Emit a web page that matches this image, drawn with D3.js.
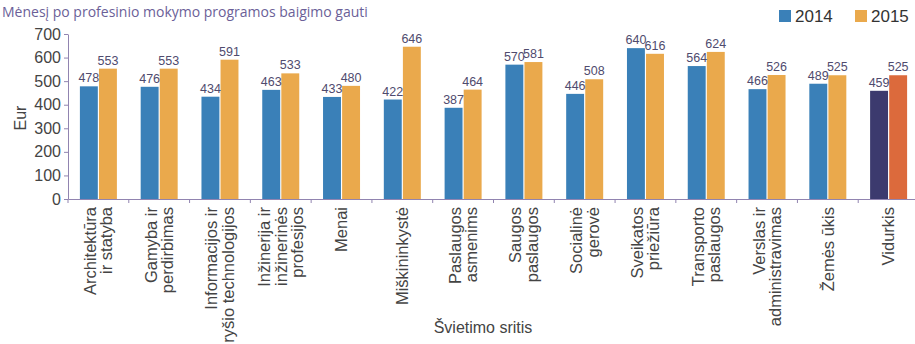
<!DOCTYPE html>
<html><head><meta charset="utf-8">
<script src="https://cdn.jsdelivr.net/npm/d3@7"></script>
<style>
body{margin:0;background:#fff;}
svg{display:block;font-family:"Liberation Sans",Arial,sans-serif;}
</style></head>
<body><svg id="c" width="915" height="344"></svg>
<script>
const categories = ["Architektūra|ir statyba","Gamyba ir|perdirbimas","Informacijos ir|ryšio technologijos","Inžinerija ir|inžinerinės|profesijos","Menai","Miškininkystė","Paslaugos|asmenims","Saugos|paslaugos","Socialinė|gerovė","Sveikatos|priežiūra","Transporto|paslaugos","Verslas ir|administravimas","Žemės ūkis","Vidurkis"];
const series = ["2014","2015"];
const values2014 = [478,476,434,463,433,422,387,570,446,640,564,466,489,459];
const values2015 = [553,553,591,533,480,646,464,581,508,616,624,526,525,525];
const yTicks = [0,100,200,300,400,500,600,700];
const title = "Mėnesį po profesinio mokymo programos baigimo gauti";

const colors = {"2014":"#3a80b8","2015":"#eaa94c"};
const avgColors = {"2014":"#3c3a6e","2015":"#dc6a3c"};

const svg = d3.select("#c");
const x0 = d3.scaleBand().domain(categories).range([68, 919]).padding(0);
const bw = x0.bandwidth();
const x1 = d3.scaleBand().domain(series).range([bw/2-18.5, bw/2+18.5]).paddingInner(0.06);
const y = d3.scaleLinear().domain([0,700]).range([199,34]);

// title
svg.append("text").attr("x",2).attr("y",17).attr("font-family","'Open Sans',sans-serif")
  .attr("font-size",14).attr("fill","#6b5f98").text(title);

// bars
const data = categories.map((c,i)=>({c, vals:[{s:"2014",v:values2014[i]},{s:"2015",v:values2015[i]}], avg: i===categories.length-1}));
const g = svg.append("g").selectAll("g").data(data).join("g")
  .attr("transform", d=>`translate(${x0(d.c)},0)`);
g.selectAll("rect").data(d=>d.vals.map(v=>({...v,avg:d.avg}))).join("rect")
  .attr("x", d=>x1(d.s)).attr("width", x1.bandwidth())
  .attr("y", d=>y(d.v)).attr("height", d=>y(0)-y(d.v))
  .attr("fill", d=> d.avg ? avgColors[d.s] : colors[d.s]);
g.selectAll("text").data(d=>d.vals).join("text")
  .attr("x", d=>x1(d.s)+x1.bandwidth()/2).attr("y", d=>y(d.v)-4)
  .attr("text-anchor","middle").attr("font-size",12.5).attr("fill","#4f4b6e")
  .text(d=>d.v);

// y axis
const yAxis = svg.append("g").attr("transform","translate(68,0)")
  .call(d3.axisLeft(y).tickValues(yTicks).tickSize(4).tickSizeOuter(0));
yAxis.select(".domain").attr("stroke","#9184b0");
yAxis.selectAll(".tick line").attr("stroke","#9184b0");
yAxis.selectAll(".tick text").attr("font-size",16).attr("fill","#444").attr("font-family","'Liberation Sans',Arial,sans-serif").attr("x",-7);

// x axis
const xAxis = svg.append("g").attr("transform",`translate(0,${y(0)})`)
  .call(d3.axisBottom(x0).tickSize(0).tickSizeOuter(0).tickFormat(""));
xAxis.select(".domain").attr("stroke","#9184b0");
xAxis.selectAll(".tick line").remove();
svg.append("g").selectAll("line").data(categories).join("line")
  .attr("x1", d=>x0(d)).attr("x2", d=>x0(d)).attr("y1", y(0)).attr("y2", y(0)+4)
  .attr("stroke","#9184b0");

// category labels
const lab = svg.append("g").selectAll("text").data(categories).join("text")
  .attr("transform", d=>`translate(${x0(d)+bw/2},207) rotate(-90)`)
  .attr("text-anchor","end").attr("font-size",16.5).attr("fill","#444");
lab.each(function(d){
  const lines = d.split("|");
  const lh = 16.5;
  d3.select(this).selectAll("tspan").data(lines).join("tspan")
    .attr("x",0).attr("y",(l,i)=>(i-(lines.length-1)/2)*lh).attr("dy","0.35em").text(l=>l);
});

// axis titles
svg.append("text").attr("transform","translate(20,118) rotate(-90)").attr("text-anchor","middle")
  .attr("font-size",16).attr("fill","#444").attr("dy","0.35em").text("Eur");
svg.append("text").attr("x",483).attr("y",333).attr("text-anchor","middle")
  .attr("font-size",16).attr("fill","#444").text("Švietimo sritis");

// legend
const leg = svg.append("g").selectAll("g").data(series).join("g")
  .attr("transform",(d,i)=>`translate(${779+i*76},10)`);
leg.append("rect").attr("width",12).attr("height",12).attr("fill",d=>colors[d]);
leg.append("text").attr("x",16).attr("y",12).attr("font-size",17).attr("fill","#333").text(d=>d);
</script></body></html>
